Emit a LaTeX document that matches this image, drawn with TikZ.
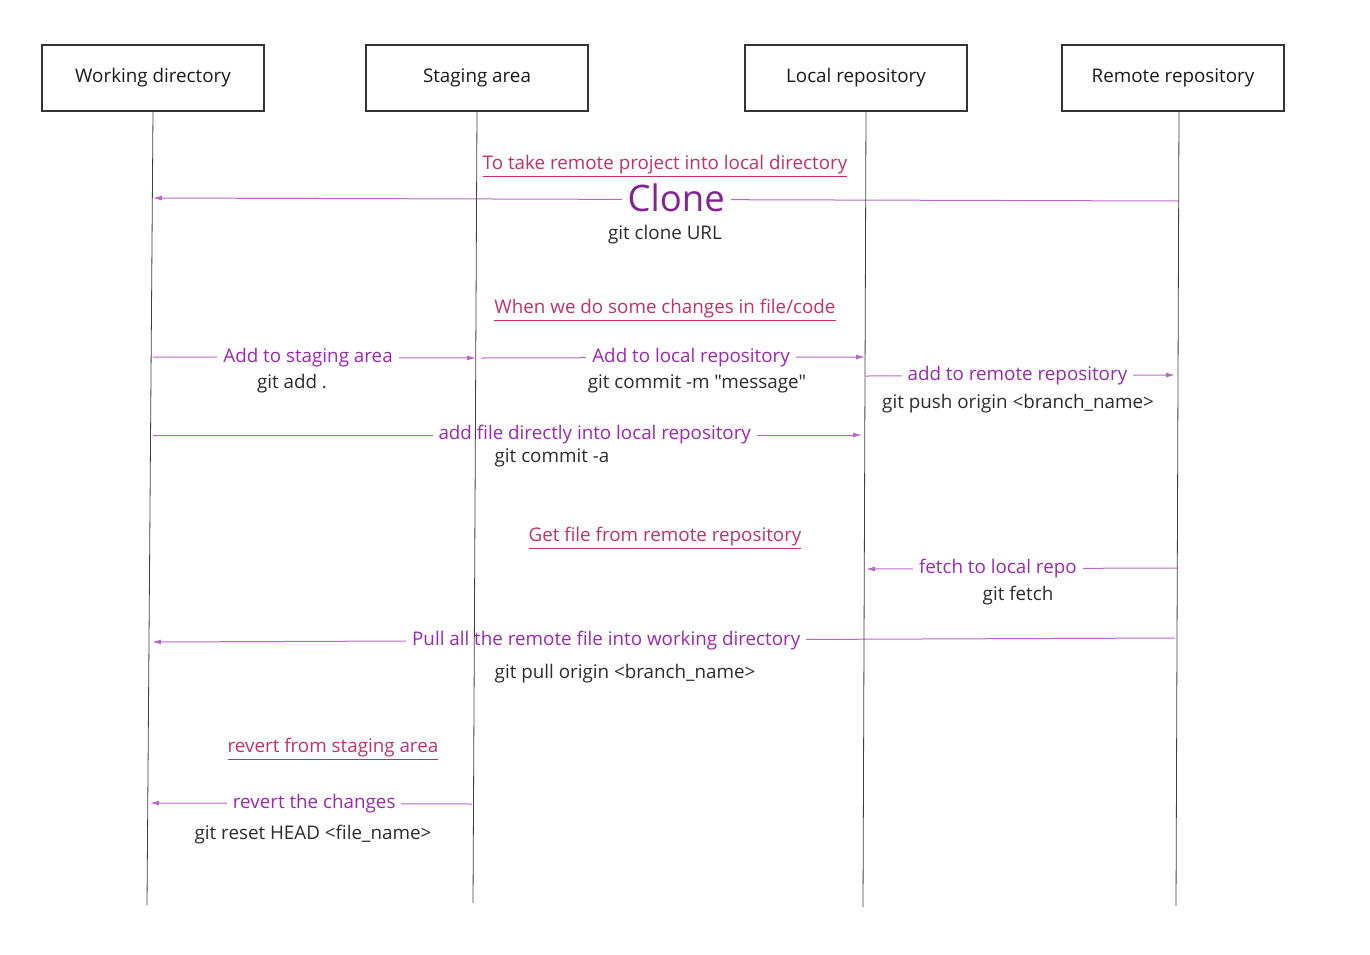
\documentclass[tikz,border=0pt]{standalone}
\usepackage{fontspec}
\setmainfont{Open Sans}[Ligatures=TeXOff]
\usetikzlibrary{arrows.meta,positioning}

\definecolor{lanec}{HTML}{333333}
\definecolor{msgc}{HTML}{9C27B0}
\definecolor{notec}{HTML}{C2306A}
\definecolor{cmdc}{HTML}{2B2B2B}

\tikzset{
	actor/.style={draw=lanec, line width=1.5pt, minimum width=222pt, minimum height=66pt, font=\fontsize{18.8}{22}\selectfont, text=black!90},
	life/.style={draw=black!75, line width=0.8pt},
	msg/.style={draw=msgc!70, line width=1pt, -{Latex[length=9pt,width=5pt]}},
	lbl/.style={fill=white, text=msgc, font=\fontsize{18.8}{22}\selectfont, inner xsep=6pt, inner ysep=2pt},
	cmd/.style={text=cmdc, font=\fontsize{18.8}{22}\selectfont},
	note/.style={text=notec, font=\fontsize{18.8}{22}\selectfont},
}

\begin{document}
\begin{tikzpicture}[x=1pt,y=-1pt]
		\useasboundingbox (0,0) rectangle (1370,954);
		
		\node[actor] (wd) at (153,78) {Working directory};
		\node[actor] (sa) at (477,78) {Staging area};
		\node[actor] (lr) at (856,78) {Local repository};
		\node[actor] (rr) at (1173,78) {Remote repository};
		
		\coordinate (wdend) at (147,905);
		\coordinate (saend) at (473,903);
		\coordinate (lrend) at (863,907);
		\coordinate (rrend) at (1176,906);
		
		\node[note] (n1) at (665,166) {\underline{To take remote project into local directory}};
		\coordinate (rr1) at (1179,201);
		\coordinate (wd1) at (153,198);
		\draw[msg] (rr1) -- node[lbl, pos=.49, font=\fontsize{36.5}{40}\selectfont, text=msgc!85!black, inner ysep=0pt, yshift=2pt] (clone) {Clone} (wd1);
		\node[cmd] (c1) at (665,235) {git clone URL};
		
		\node[note] (n2) at (665,310) {\underline{When we do some changes in file/code}};
		\coordinate (wd2) at (153,357);
		\coordinate (sa2) at (476,358);
		\draw[msg] (wd2) -- node[lbl, pos=.48] (l2) {Add to staging area} (sa2);
		\node[cmd] (c2) at (292,384) {git add .};
		
		\coordinate (sa3) at (481,358);
		\coordinate (lr3) at (865,357);
		\draw[msg] (sa3) -- node[lbl, pos=.547] (l3) {Add to local repository} (lr3);
		\node[cmd] (c3) at (697,384) {git commit -m "message"};
		
		\coordinate (lr4) at (866,376);
		\coordinate (rr4) at (1175,375);
		\draw[msg] (lr4) -- node[lbl, pos=.49] (l4) {add to remote repository} (rr4);
		\node[cmd] (c4) at (1018,404) {git push origin <branch\_name>};
		
		\coordinate (wd5) at (153,435);
		\coordinate (lr5) at (862,435);
		\draw[msg] (wd5) -- node[lbl, pos=.623] (l5) {add file directly into local repository} (lr5);
		\node[cmd] (c5) at (552,458) {git commit -a};
		
		\node[note] (n3) at (665,538) {\underline{Get file from remote repository}};
		\coordinate (rr6) at (1177,568);
		\coordinate (lr6) at (866,569);
		\draw[msg] (rr6) -- node[lbl, pos=.576] (l6) {fetch to local repo} (lr6);
		\node[cmd] (c6) at (1018,596) {git fetch};
		
		\coordinate (rr7) at (1175,638);
		\coordinate (wd7) at (152,642);
		\draw[msg] (rr7) -- node[lbl, pos=.556] (l7) {Pull all the remote file into working directory} (wd7);
		\node[cmd] (c7) at (625,674) {git pull origin <branch\_name>};
		
		\node[note] (n4) at (333,749) {\underline{revert from staging area}};
		\coordinate (sa8) at (472,804);
		\coordinate (wd8) at (150,803);
		\draw[msg] (sa8) -- node[lbl, pos=.49] (l8) {revert the changes} (wd8);
		\node[cmd] (c8) at (313,835) {git reset HEAD <file\_name>};
		
		\draw[life] (wd.south) -- (wdend);
		\draw[life] (sa.south) -- (saend);
		\draw[life] ([xshift=10pt]lr.south) -- (lrend);
		\draw[life] ([xshift=6pt]rr.south) -- (rrend);
		
\end{tikzpicture}
\end{document}
